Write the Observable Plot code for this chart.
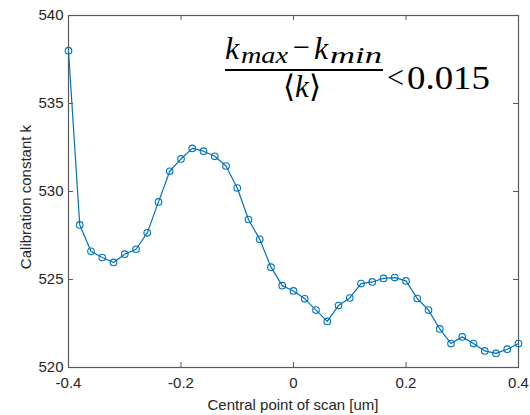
<!DOCTYPE html>
<html>
<head>
<meta charset="utf-8">
<script src="https://cdn.jsdelivr.net/npm/d3@7"></script>
<script src="https://cdn.jsdelivr.net/npm/@observablehq/plot@0.6"></script>
<style>
  html, body { margin: 0; padding: 0; background: #fff; }
  #chart { position: relative; width: 530px; height: 415px; }
</style>
</head>
<body>
<div id="chart"></div>
<script>
const xPositions = [-0.40, -0.38, -0.36, -0.34, -0.32, -0.30, -0.28, -0.26, -0.24, -0.22,
                    -0.20, -0.18, -0.16, -0.14, -0.12, -0.10, -0.08, -0.06, -0.04, -0.02,
                     0.00,  0.02,  0.04,  0.06,  0.08,  0.10,  0.12,  0.14,  0.16,  0.18,
                     0.20,  0.22,  0.24,  0.26,  0.28,  0.30,  0.32,  0.34,  0.36,  0.38, 0.40];
const kValues = [538.0, 528.1, 526.6, 526.25, 525.97, 526.44, 526.72, 527.65, 529.41, 531.15,
                 531.85, 532.45, 532.29, 532.0, 531.45, 530.2, 528.41, 527.28, 525.7, 524.65,
                 524.35, 523.9, 523.26, 522.62, 523.52, 523.95, 524.77, 524.86, 525.06, 525.11,
                 524.92, 523.92, 523.26, 522.19, 521.36, 521.74, 521.36, 520.94, 520.8, 521.04, 521.36];
const xTicks = [-0.4, -0.2, 0, 0.2, 0.4];
const yTicks = [520, 525, 530, 535, 540];
const xLabel = "Central point of scan [um]";
const yLabel = "Calibration constant k";

const data = xPositions.map((x, i) => ({x, k: kValues[i]}));

const W = 530, H = 415, mL = 68, mR = 12, mT = 15, mB = 48;
const innerW = W - mL - mR, innerH = H - mT - mB;
const tickLen = 5;
const blue = "#0072BD";
const axisColor = "#5a5a5a";
const textColor = "#262626";

const plot = Plot.plot({
  width: W,
  height: H,
  marginLeft: mL,
  marginRight: mR,
  marginTop: mT,
  marginBottom: mB,
  style: {fontFamily: "'Liberation Sans', Arial, sans-serif", fontSize: "15px", color: textColor, background: "#fff"},
  x: {domain: [-0.4, 0.4]},
  y: {domain: [520, 540]},
  marks: [
    Plot.axisX(xTicks, {tickSize: 0, tickPadding: 10, fontSize: 15, label: null,
      tickFormat: d => d === 0 ? "0" : d.toFixed(1), fill: textColor}),
    Plot.axisY(yTicks, {tickSize: 0, tickPadding: 5, fontSize: 15, label: null, fill: textColor}),
    Plot.ruleX(xTicks, {x: d => d, insetTop: innerH - tickLen, stroke: axisColor}),
    Plot.ruleX(xTicks, {x: d => d, insetBottom: innerH - tickLen, stroke: axisColor}),
    Plot.ruleY(yTicks, {y: d => d, insetRight: innerW - tickLen, stroke: axisColor}),
    Plot.ruleY(yTicks, {y: d => d, insetLeft: innerW - tickLen, stroke: axisColor}),
    Plot.frame({stroke: axisColor, strokeWidth: 1.2}),
    Plot.line(data, {x: "x", y: "k", stroke: blue, strokeWidth: 1.2}),
    Plot.dot(data, {x: "x", y: "k", r: 3.3, stroke: blue, strokeWidth: 1.1, fill: "none"})
  ]
});

const svg = d3.select(plot);
// axis titles
svg.append("text")
  .attr("x", mL + innerW / 2).attr("y", 410)
  .attr("text-anchor", "middle")
  .attr("font-family", "'Liberation Sans', Arial, sans-serif")
  .attr("font-size", 15).attr("fill", textColor)
  .text(xLabel);
svg.append("text")
  .attr("transform", `translate(31,${mT + innerH / 2 + 6}) rotate(-90)`)
  .attr("text-anchor", "middle")
  .attr("font-family", "'Liberation Sans', Arial, sans-serif")
  .attr("font-size", 15).attr("fill", textColor)
  .text(yLabel);

// formula annotation
const serif = "'Liberation Serif', 'DejaVu Serif', serif";
function put(txt, x, y, size, opts = {}) {
  const t = svg.append("text")
    .attr("x", x).attr("y", y)
    .attr("text-anchor", opts.anchor || "start")
    .attr("font-family", serif).attr("font-size", size).attr("fill", "#000")
    .attr("font-style", opts.italic ? "italic" : "normal")
    .text(txt);
  if (opts.len) t.attr("textLength", opts.len).attr("lengthAdjust", "spacingAndGlyphs");
  return t;
}
put("k", 225, 59, 32, {italic: true});
put("max", 241, 63, 23, {italic: true, len: 47});
put("\u2212", 293, 57, 30, {len: 17});
put("k", 314, 59, 32, {italic: true});
put("min", 330, 63, 23, {italic: true, len: 52});
svg.append("line")
  .attr("x1", 225).attr("x2", 383).attr("y1", 70).attr("y2", 70)
  .attr("stroke", "#000").attr("stroke-width", 2);
const den = svg.append("text")
  .attr("x", 302).attr("y", 97).attr("text-anchor", "middle")
  .attr("font-family", serif).attr("font-size", 31).attr("fill", "#000");
den.append("tspan").text("\u27E8");
den.append("tspan").attr("font-style", "italic").text("k");
den.append("tspan").text("\u27E9");
put("<", 387, 88, 32, {len: 17});
put("0.015", 407, 89, 34, {len: 83});

document.getElementById("chart").appendChild(plot);
</script>
</body>
</html>
